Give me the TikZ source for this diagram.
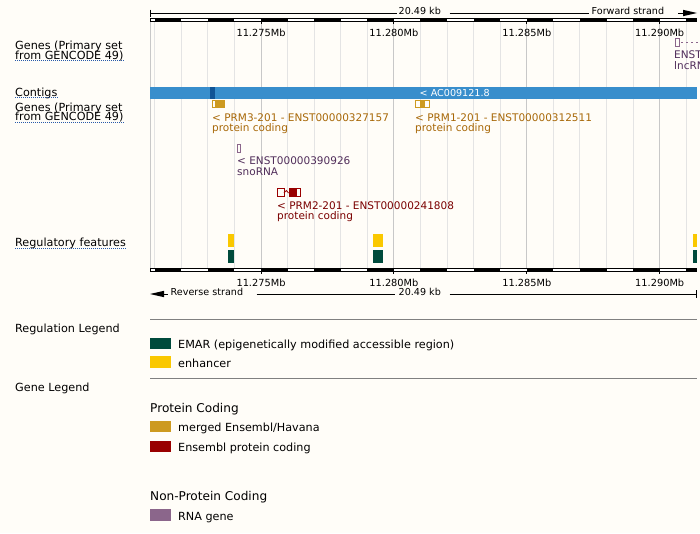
\documentclass[tikz,border=0pt]{standalone}
\usepackage{fontspec}
\setmainfont{DejaVu Sans}
\definecolor{bg}{RGB}{255,253,248}
\definecolor{gridl}{RGB}{228,228,228}
\definecolor{gridd}{RGB}{200,200,200}
\definecolor{contig}{RGB}{56,142,204}
\definecolor{contigd}{RGB}{16,84,150}
\definecolor{merged}{RGB}{205,154,32}
\definecolor{mergedtxt}{RGB}{168,104,8}
\definecolor{enspc}{RGB}{153,0,0}
\definecolor{enspctxt}{RGB}{122,0,0}
\definecolor{rnagene}{RGB}{139,102,139}
\definecolor{rnatxt}{RGB}{80,45,90}
\definecolor{enh}{RGB}{250,200,0}
\definecolor{emar}{RGB}{0,75,60}
\definecolor{ulblue}{RGB}{40,90,170}
\definecolor{leggray}{RGB}{128,128,128}
\tikzset{
  lbl/.style={anchor=base west, inner sep=0pt, font=\fontsize{11.2}{13}\selectfont},
  rul/.style={anchor=base, inner sep=0pt, font=\fontsize{9.8}{11}\selectfont},
  rulw/.style={anchor=base west, inner sep=0pt, font=\fontsize{9.6}{11}\selectfont},
  gtxt/.style={anchor=base west, inner sep=0pt, font=\fontsize{10.5}{12}\selectfont},
  ptitle/.style={anchor=base west, inner sep=0pt, font=\fontsize{12.1}{14}\selectfont},
  uline/.style={ulblue, line width=1pt, dash pattern=on 1pt off 1pt},
  gridthin/.style={gridl, line width=1pt},
  gridthick/.style={gridd, line width=1pt},
  legrule/.style={leggray, line width=1pt},
}
\begin{document}
\begin{tikzpicture}[x=1pt,y=-1pt]
\fill[bg] (0,0) rectangle (700,533);
\useasboundingbox (0,0) rectangle (700,533);

% grid
\foreach \k in {-4,...,16} {
  \pgfmathsetmacro\gx{261+26.58*\k}
  \draw[gridthin] (\gx,22) -- (\gx,268);
}
\foreach \k in {0,5,10,15} {
  \pgfmathsetmacro\gx{261+26.58*\k}
  \draw[gridthick] (\gx,22) -- (\gx,268);
}
\draw[gridthick] (150.5,22) -- (150.5,268);

% scale bars
\foreach \yy in {18,268} {
  \fill[black] (150,\yy) rectangle (697,\yy+4);
  \foreach \k in {-5,-3,...,15} {
    \pgfmathsetmacro\ga{max(151,261+26.58*\k)}
    \pgfmathsetmacro\gb{261+26.58*(\k+1)}
    \fill[white] (\ga,\yy+1) rectangle (\gb,\yy+3);
  }
}
\foreach \k in {0,5,10,15} {
  \pgfmathsetmacro\gx{261+26.58*\k}
  \draw[line width=1pt] (\gx,22) -- (\gx,24);
  \draw[line width=1pt] (\gx,272) -- (\gx,274);
}

% tick labels
\node[rul] (t1) at (261,36) {11.275Mb};
\node[rul] (t2) at (393.9,36) {11.280Mb};
\node[rul] (t3) at (526.8,36) {11.285Mb};
\node[rul] (t4) at (659.7,36) {11.290Mb};
\node[rul] (b1) at (261,286) {11.275Mb};
\node[rul] (b2) at (393.9,286) {11.280Mb};
\node[rul] (b3) at (526.8,286) {11.285Mb};
\node[rul] (b4) at (659.7,286) {11.290Mb};

% top strand line
\node[rulw] (kbtop) at (398.5,14) {20.49 kb};
\node[rulw] (fwd) at (591.5,14) {Forward strand};
\draw[line width=1pt] (150.5,9.5) -- (150.5,16.5);
\draw[line width=1pt] (150,13) -- (397,13);
\draw[line width=1pt] (449.5,13) -- (588.5,13);
\draw[line width=1pt] (678,13) -- (684,13);
\fill (683,9.8) -- (697,13) -- (683,16.2) -- cycle;

% bottom strand line
\node[rulw] (rev) at (170.5,295) {Reverse strand};
\node[rulw] (kbbot) at (398.5,295) {20.49 kb};
\fill (150,294) -- (164,290.8) -- (164,297.2) -- cycle;
\draw[line width=1pt] (163,294) -- (168,294);
\draw[line width=1pt] (256.5,294) -- (395,294);
\draw[line width=1pt] (449.5,294) -- (696,294);
\draw[line width=1pt] (696,290) -- (696,298);

% track labels
\node[lbl] (g1a) at (15,49.3) {Genes (Primary set};
\node[lbl] (g1b) at (15,59.3) {from GENCODE 49)};
\draw[uline] ([yshift=-1.5pt]g1b.base west) -- ([yshift=-1.5pt]g1b.base east);
\node[lbl] (ctg) at (15,96) {Contigs};
\draw[uline] ([yshift=-1.5pt]ctg.base west) -- ([yshift=-1.5pt]ctg.base east);
\node[lbl] (g2a) at (15,111.3) {Genes (Primary set};
\node[lbl] (g2b) at (15,120.7) {from GENCODE 49)};
\draw[uline] ([yshift=-1.5pt]g2b.base west) -- ([yshift=-1.5pt]g2b.base east);
\node[lbl] (reg) at (15,246.5) {Regulatory features};
\draw[uline] ([yshift=-1.5pt]reg.base west) -- ([yshift=-1.5pt]reg.base east);

% lncRNA (forward strand, clipped at the picture's edge)
\begin{scope}
\clip (150,22) rectangle (700,80);
\draw[rnagene, line width=1pt] (675,38.5) rectangle (679.5,46.5);
\draw[rnagene, line width=1pt, dash pattern=on 2pt off 3pt] (681,42.5) -- (700,42.5);
\node[gtxt, text=rnatxt] (lnc1) at (674,58.3) {ENST};
\node[gtxt, text=rnatxt] (lnc2) at (674,69.3) {lncRN};
\end{scope}

% contig
\fill[contig] (150,87) rectangle (697,99);
\fill[contigd] (210,87) rectangle (215,99);
\node[anchor=base west, inner sep=0pt, text=white, font=\fontsize{9.6}{11}\selectfont] (ac) at (419.5,96.5) {< AC009121.8};

% PRM3
\draw[merged, line width=1pt] (212.5,100.5) rectangle (215.5,107.5);
\fill[merged] (215,100) rectangle (225,108);
\node[gtxt, text=mergedtxt] (prm3a) at (212,121) {< PRM3-201 - ENST00000327157};
\node[gtxt, text=mergedtxt] (prm3b) at (212,131.5) {protein coding};

% PRM1
\draw[merged, line width=1pt] (415.5,100.5) rectangle (420.5,107.5);
\fill[merged] (420.5,100) rectangle (424.5,108);
\draw[merged, line width=1pt] (424.5,100.5) rectangle (429.5,107.5);
\node[gtxt, text=mergedtxt] (prm1a) at (415,121) {< PRM1-201 - ENST00000312511};
\node[gtxt, text=mergedtxt] (prm1b) at (415,131.5) {protein coding};

% snoRNA
\draw[rnagene, line width=1pt] (237.5,144.5) rectangle (240.5,152);
\node[gtxt, text=rnatxt] (snoa) at (237,164.3) {< ENST00000390926};
\node[gtxt, text=rnatxt] (snob) at (237,175.5) {snoRNA};

% PRM2
\draw[enspc, line width=1pt] (277.5,188.5) rectangle (284,196.5);
\draw[enspc, line width=0.8pt] (284,193) -- (286.3,190.5) -- (288.6,193);
\draw[enspc, line width=1pt] (289,188.5) rectangle (300.5,196.5);
\fill[enspc] (289,188) rectangle (297,197);
\node[gtxt, text=enspctxt] (prm2a) at (277,209) {< PRM2-201 - ENST00000241808};
\node[gtxt, text=enspctxt] (prm2b) at (277,219.3) {protein coding};

% regulatory features
\fill[enh] (228,234) rectangle (234,246.5);
\fill[enh] (373,234) rectangle (383,246.5);
\fill[enh] (693,234) rectangle (697,246.5);
\fill[emar] (228,250) rectangle (234,263);
\fill[emar] (373,250) rectangle (383,263);
\fill[emar] (693,250) rectangle (697,263);

% legends
\draw[legrule] (150,319.5) -- (697,319.5);
\draw[legrule] (150,378.5) -- (697,378.5);
\node[lbl] (rl) at (15,332) {Regulation Legend};
\fill[emar] (150,337.5) rectangle (171,349);
\node[lbl] (le1) at (178,348.3) {EMAR (epigenetically modified accessible region)};
\fill[enh] (150,356) rectangle (171,367.5);
\node[lbl] (le2) at (178,367.3) {enhancer};
\node[lbl] (gl) at (15,391) {Gene Legend};
\node[ptitle] (pc) at (150,412.3) {Protein Coding};
\fill[merged] (150,420.5) rectangle (171,432);
\node[lbl] (lg1) at (178,431) {merged Ensembl/Havana};
\fill[enspc] (150,440.5) rectangle (171,452);
\node[lbl] (lg2) at (178,451) {Ensembl protein coding};
\node[ptitle] (npc) at (150,500) {Non-Protein Coding};
\fill[rnagene] (150,509) rectangle (171,520.7);
\node[lbl] (lg3) at (178,520) {RNA gene};
\end{tikzpicture}
\end{document}
